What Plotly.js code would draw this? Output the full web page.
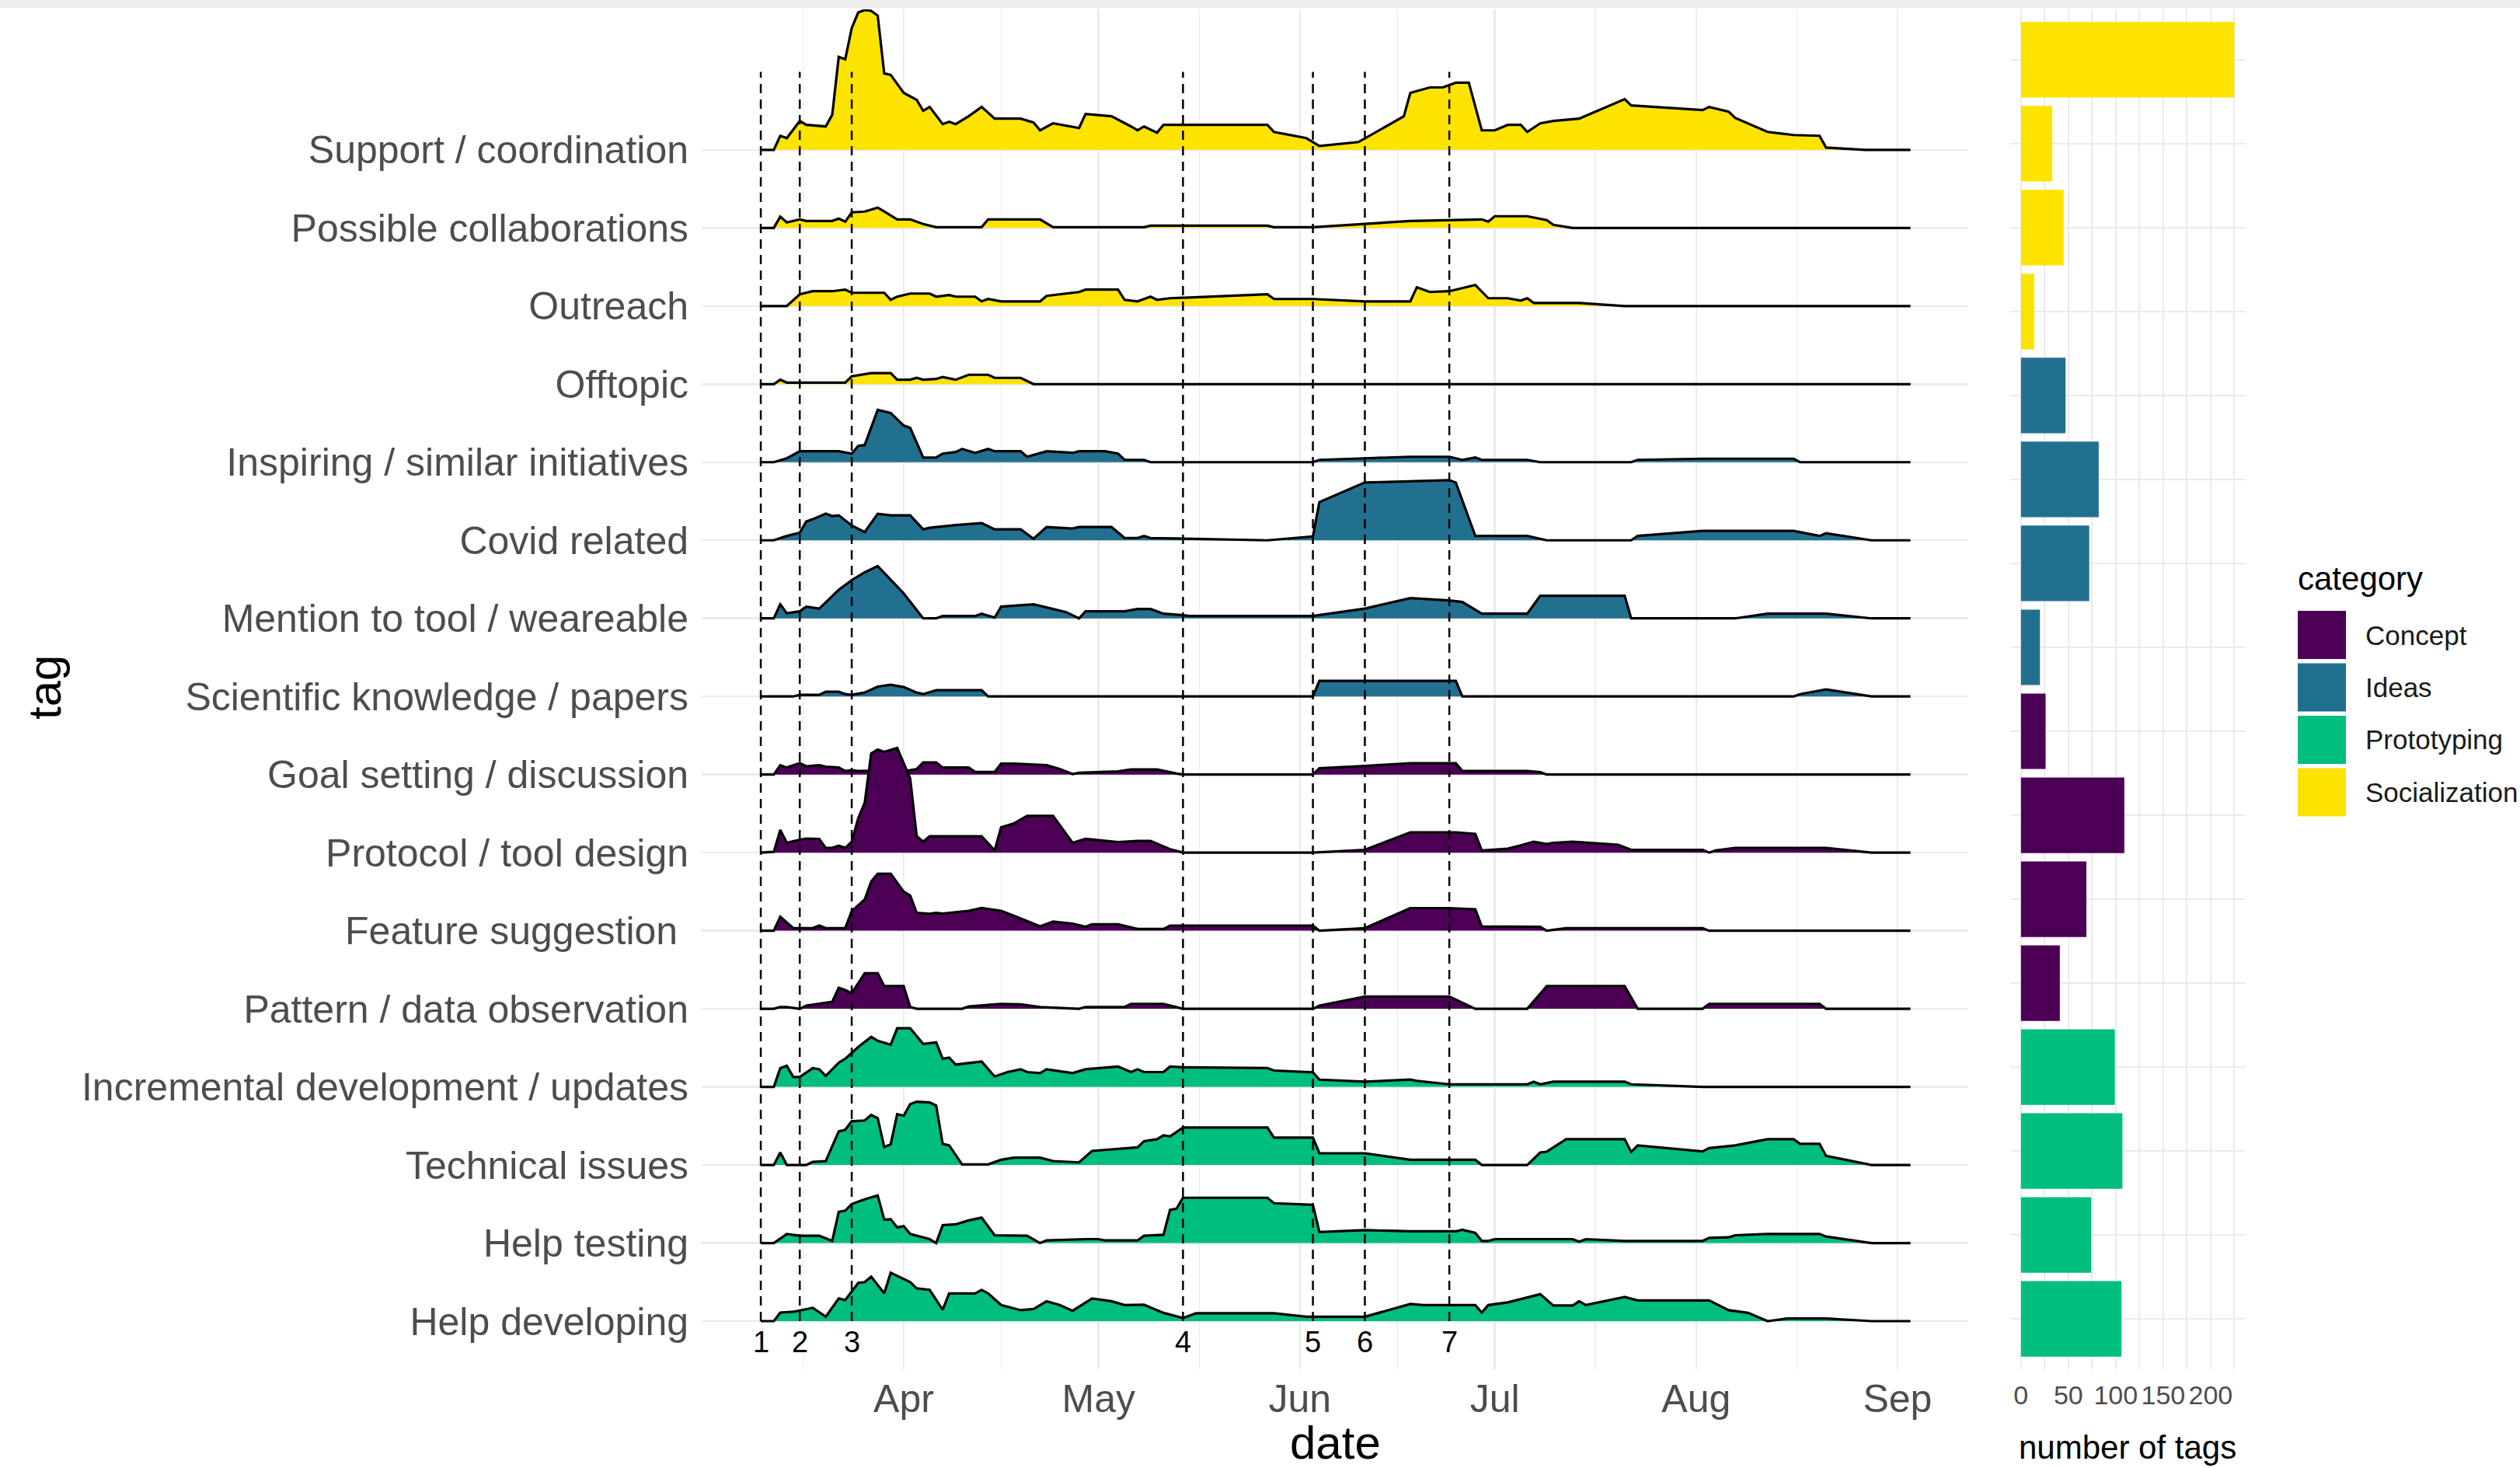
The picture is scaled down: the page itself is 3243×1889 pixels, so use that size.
<!DOCTYPE html>
<html>
<head>
<meta charset="utf-8">
<script src="https://cdn.plot.ly/plotly-3.0.1.min.js"></script>
<style>
html,body{margin:0;padding:0;background:#ffffff;}
#chart{width:3243px;height:1889px;}
</style>
</head>
<body>
<div id="chart"></div>
<script>
// ---------------- DATA ----------------
const YEAR = '2020';

// tags, top to bottom
const tags = [
  'Support / coordination', 'Possible collaborations', 'Outreach', 'Offtopic',
  'Inspiring / similar initiatives', 'Covid related', 'Mention to tool / weareable', 'Scientific knowledge / papers',
  'Goal setting / discussion', 'Protocol / tool design', 'Feature suggestion ', 'Pattern / data observation',
  'Incremental development / updates', 'Technical issues', 'Help testing', 'Help developing'
];
const tagCategory = [
  'Socialization','Socialization','Socialization','Socialization',
  'Ideas','Ideas','Ideas','Ideas',
  'Concept','Concept','Concept','Concept',
  'Prototyping','Prototyping','Prototyping','Prototyping'
];
const categories = ['Concept', 'Ideas', 'Prototyping', 'Socialization'];
const categoryColors = ['#4B0055', '#22708F', '#00BE7D', '#FDE400'];
const tagCounts = [225, 33, 45, 14, 47, 82, 72, 20, 26, 109, 69, 41, 99, 107, 74, 106];

const eventDates = ['03-10', '03-16', '03-24', '05-14', '06-03', '06-11', '06-24'];
const eventLabels = ['1', '2', '3', '4', '5', '6', '7'];
const monthTicks = ['04-01', '05-01', '06-01', '07-01', '08-01', '09-01'];
const monthLabels = ['Apr', 'May', 'Jun', 'Jul', 'Aug', 'Sep'];
const monthMinor = ['03-16 12:00', '04-16', '05-16 12:00', '06-16', '07-16 12:00', '08-16 12:00'];
const countTicks = [0, 50, 100, 150, 200];
const countMinor = [25, 75, 125, 175, 225];

// ridge heights (in row-spacing units), per tag
const supportDates = ['03-10','03-12','03-13','03-14','03-16','03-17','03-20','03-21','03-22','03-23','03-24','03-25','03-26','03-27','03-28','03-29','03-30','04-01','04-03','04-04','04-05','04-07','04-08','04-09','04-11','04-13','04-15','04-19','04-21','04-22','04-24','04-28','04-29','05-03','05-06','05-07','05-08','05-10','05-11','05-27','05-28','06-02','06-04','06-10','06-17','06-18','06-21','06-23','06-25','06-27','06-29','07-01','07-03','07-05','07-06','07-08','07-10','07-14','07-21','07-22','08-02','08-03','08-06','08-07','08-12','08-16','08-20','08-21','08-27','09-03'];
const supportVals = [0,0,0.18,0.15,0.37,0.32,0.30,0.45,1.19,1.16,1.56,1.76,1.79,1.78,1.72,0.98,0.96,0.73,0.64,0.50,0.55,0.33,0.36,0.33,0.43,0.55,0.40,0.40,0.35,0.25,0.34,0.28,0.46,0.43,0.30,0.25,0.30,0.22,0.32,0.32,0.23,0.15,0.05,0.10,0.43,0.73,0.80,0.80,0.86,0.86,0.25,0.25,0.32,0.32,0.23,0.34,0.37,0.40,0.65,0.57,0.51,0.55,0.49,0.41,0.23,0.19,0.18,0.03,0,0];

const collabDates = ['03-10','03-12','03-13','03-14','03-16','03-17','03-21','03-22','03-23','03-24','03-26','03-28','03-29','03-31','04-02','04-04','04-06','04-13','04-14','04-22','04-24','05-08','05-09','05-27','05-28','06-03','06-18','06-29','06-30','07-01','07-06','07-08','07-09','07-10','07-13','09-03'];
const collabVals = [0,0,0.146,0.07,0.11,0.09,0.09,0.12,0.08,0.20,0.21,0.26,0.21,0.11,0.11,0.05,0.01,0.01,0.11,0.11,0.01,0.01,0.03,0.03,0.01,0.01,0.09,0.11,0.08,0.15,0.15,0.12,0.10,0.04,0,0];

const outreachDates = ['03-10','03-14','03-16','03-18','03-21','03-23','03-24','03-29','03-30','03-31','04-02','04-05','04-06','04-08','04-09','04-12','04-13','04-14','04-16','04-22','04-23','04-28','04-29','05-04','05-05','05-07','05-09','05-10','05-12','05-27','05-28','06-03','06-11','06-18','06-19','06-21','06-24','06-28','06-30','07-03','07-05','07-06','07-07','07-14','07-21','09-03'];
const outreachVals = [0,0,0.15,0.19,0.19,0.21,0.17,0.17,0.08,0.12,0.16,0.16,0.12,0.14,0.12,0.12,0.06,0.09,0.06,0.06,0.13,0.18,0.21,0.21,0.08,0.06,0.12,0.08,0.10,0.15,0.09,0.09,0.06,0.06,0.24,0.18,0.19,0.27,0.10,0.10,0.07,0.10,0.04,0.04,0,0];

const offtopicDates = ['03-10','03-12','03-13','03-14','03-23','03-24','03-27','03-30','03-31','04-02','04-03','04-04','04-06','04-07','04-09','04-11','04-14','04-15','04-19','04-21','09-03'];
const offtopicVals = [0,0,0.056,0.02,0.02,0.10,0.14,0.14,0.056,0.056,0.08,0.056,0.066,0.09,0.056,0.12,0.12,0.08,0.08,0,0];

const inspiringDates = ['03-10','03-12','03-14','03-16','03-22','03-24','03-25','03-26','03-28','03-30','04-01','04-02','04-04','04-06','04-07','04-09','04-10','04-12','04-14','04-15','04-19','04-20','04-23','04-27','04-28','05-02','05-04','05-05','05-08','05-09','06-03','06-04','06-11','06-18','06-24','06-26','06-28','06-29','07-06','07-08','07-22','07-23','08-02','08-16','08-17','09-03'];
const inspiringVals = [0,0,0.05,0.14,0.14,0.11,0.21,0.22,0.67,0.63,0.47,0.44,0.06,0.06,0.11,0.13,0.17,0.12,0.17,0.14,0.14,0.07,0.14,0.12,0.14,0.14,0.11,0.03,0.03,0,0,0.03,0.05,0.07,0.07,0.03,0.06,0.03,0.03,0,0,0.03,0.045,0.045,0,0];

const covidDates = ['03-10','03-12','03-14','03-16','03-17','03-18','03-20','03-21','03-22','03-24','03-26','03-28','03-30','04-02','04-04','04-05','04-09','04-13','04-15','04-19','04-21','04-23','04-27','04-28','05-03','05-05','05-07','05-08','05-09','05-27','06-03','06-04','06-11','06-24','06-25','06-28','07-06','07-09','07-22','07-23','08-02','08-16','08-20','08-21','08-28','09-03'];
const covidVals = [0,0,0.056,0.096,0.24,0.27,0.34,0.31,0.32,0.19,0.106,0.34,0.32,0.32,0.14,0.16,0.196,0.22,0.14,0.14,0.02,0.17,0.15,0.17,0.17,0.03,0.03,0.056,0.03,0,0.05,0.49,0.74,0.77,0.74,0.056,0.056,0,0,0.056,0.12,0.12,0.056,0.09,0,0];

const mentionDates = ['03-10','03-12','03-13','03-14','03-16','03-17','03-19','03-21','03-22','03-24','03-26','03-28','03-30','04-01','04-04','04-06','04-07','04-12','04-13','04-15','04-16','04-21','04-23','04-26','04-28','04-29','05-05','05-07','05-09','05-11','05-14','05-15','06-03','06-11','06-18','06-24','06-26','06-29','07-06','07-08','07-21','07-22','08-07','08-12','08-21','08-28','09-03'];
const mentionVals = [0,0,0.18,0.066,0.09,0.15,0.126,0.29,0.365,0.49,0.59,0.67,0.49,0.32,0,0,0.03,0.03,0.06,0.01,0.15,0.18,0.14,0.08,0,0.09,0.09,0.12,0.12,0.06,0.04,0.03,0.03,0.126,0.26,0.23,0.21,0.06,0.06,0.29,0.29,0,0,0.06,0.06,0,0];

const scientificDates = ['03-10','03-15','03-16','03-19','03-20','03-22','03-23','03-24','03-26','03-27','03-28','03-30','04-01','04-03','04-04','04-06','04-13','04-14','06-03','06-04','06-25','06-26','08-16','08-17','08-21','08-28','09-03'];
const scientificVals = [0,0,0.02,0.02,0.06,0.06,0.03,0.02,0.05,0.09,0.126,0.15,0.12,0.05,0.03,0.08,0.08,0,0,0.2,0.2,0,0,0.03,0.09,0,0];

const goalDates = ['03-10','03-12','03-13','03-14','03-16','03-17','03-19','03-20','03-22','03-23','03-24','03-25','03-29','04-01','04-03','04-04','04-06','04-07','04-11','04-12','04-15','04-16','04-18','04-23','04-25','04-27','04-28','05-04','05-06','05-10','05-13','05-14','06-03','06-04','06-11','06-18','06-25','06-26','07-06','07-08','07-09','09-03'];
const goalVals = [0,0,0.12,0.09,0.146,0.106,0.12,0.10,0.09,0.046,0.056,0.046,0.05,0.04,0.07,0.156,0.156,0.09,0.09,0.033,0.033,0.14,0.14,0.12,0.07,0.007,0.023,0.04,0.066,0.066,0.013,0,0,0.08,0.11,0.146,0.146,0.046,0.046,0.03,0,0];

const protocolDates = ['03-10','03-12','03-13','03-14','03-16','03-17','03-19','03-20','03-21','03-22','03-23','03-24','03-25','03-26','03-27','03-28','03-29','03-31','04-02','04-03','04-04','04-05','04-13','04-15','04-16','04-18','04-20','04-24','04-27','04-29','05-04','05-07','05-09','05-12','05-14','06-03','06-11','06-18','06-25','06-28','06-29','07-03','07-05','07-07','07-09','07-10','07-13','07-20','07-22','08-02','08-03','08-04','08-07','08-21','08-28','09-03'];
const protocolVals = [0,0.01,0.29,0.126,0.166,0.18,0.176,0.06,0.06,0.09,0.06,0.14,0.44,0.64,1.27,1.32,1.29,1.34,0.95,0.21,0.14,0.21,0.21,0.027,0.325,0.375,0.47,0.47,0.126,0.176,0.136,0.15,0.15,0.043,0,0,0.036,0.26,0.26,0.24,0.027,0.05,0.093,0.14,0.11,0.126,0.14,0.10,0.036,0.036,0,0.027,0.06,0.06,0,0];

const featureDates = ['03-10','03-12','03-13','03-15','03-18','03-19','03-20','03-23','03-24','03-26','03-27','03-28','03-30','04-01','04-02','04-03','04-05','04-06','04-07','04-11','04-13','04-16','04-18','04-22','04-24','04-27','04-29','04-30','05-04','05-07','05-11','05-12','06-03','06-04','06-11','06-18','06-24','06-28','06-29','07-08','07-09','07-12','08-02','08-03','09-03'];
const featureVals = [0,0,0.18,0.033,0.033,0.066,0.033,0.033,0.25,0.40,0.63,0.73,0.73,0.50,0.45,0.23,0.216,0.23,0.22,0.255,0.29,0.255,0.19,0.056,0.116,0.09,0.05,0.083,0.083,0.023,0.023,0.066,0.066,0,0.033,0.29,0.29,0.275,0.056,0.05,0,0.033,0.033,0,0];

const patternDates = ['03-10','03-12','03-13','03-14','03-16','03-17','03-21','03-22','03-23','03-24','03-26','03-28','03-29','04-01','04-02','04-03','04-10','04-11','04-16','04-19','04-22','04-28','04-29','05-05','05-06','05-11','05-14','06-03','06-04','06-11','06-24','06-28','07-06','07-09','07-21','07-23','08-02','08-03','08-20','08-21','09-03'];
const patternVals = [0,0,0.023,0.023,0,0.04,0.09,0.27,0.24,0.2,0.455,0.455,0.29,0.29,0.023,0,0,0.03,0.063,0.056,0.023,0,0.023,0.023,0.063,0.063,0,0,0.04,0.156,0.156,0,0,0.29,0.29,0,0,0.063,0.063,0,0];

const incrementalDates = ['03-10','03-12','03-13','03-14','03-15','03-16','03-18','03-19','03-20','03-22','03-23','03-24','03-25','03-27','03-28','03-30','03-31','04-02','04-04','04-06','04-07','04-08','04-09','04-13','04-15','04-17','04-19','04-20','04-22','04-23','04-25','04-27','04-29','05-04','05-06','05-07','05-08','05-11','05-12','05-14','05-27','05-28','06-03','06-04','06-11','06-18','06-19','06-24','07-06','07-07','07-08','07-10','07-21','07-22','08-02','09-03'];
const incrementalVals = [0,0,0.24,0.27,0.126,0.126,0.24,0.226,0.14,0.31,0.36,0.44,0.51,0.64,0.59,0.54,0.75,0.75,0.55,0.57,0.36,0.375,0.285,0.325,0.133,0.19,0.226,0.19,0.176,0.226,0.2,0.176,0.226,0.26,0.19,0.226,0.19,0.19,0.26,0.25,0.24,0.21,0.186,0.093,0.066,0.093,0.076,0.033,0.033,0.066,0.033,0.066,0.066,0.033,0,0];

const technicalDates = ['03-10','03-12','03-13','03-14','03-17','03-18','03-20','03-22','03-23','03-24','03-26','03-27','03-28','03-29','03-30','03-31','04-01','04-02','04-03','04-05','04-06','04-07','04-08','04-10','04-14','04-16','04-18','04-22','04-24','04-28','04-30','05-07','05-08','05-10','05-11','05-12','05-14','05-27','05-28','06-03','06-04','06-11','06-18','06-28','06-29','07-06','07-08','07-09','07-12','07-21','07-22','07-23','08-02','08-03','08-07','08-12','08-16','08-17','08-20','08-21','08-28','09-03'];
const technicalVals = [0,0,0.16,0,0,0.04,0.05,0.43,0.45,0.56,0.57,0.64,0.60,0.23,0.265,0.65,0.63,0.78,0.81,0.80,0.76,0.27,0.25,0.007,0.007,0.066,0.093,0.093,0.05,0.033,0.18,0.226,0.305,0.33,0.38,0.365,0.48,0.48,0.35,0.35,0.15,0.15,0.066,0.066,0,0,0.16,0.17,0.33,0.33,0.166,0.25,0.173,0.216,0.25,0.33,0.33,0.27,0.27,0.116,0,0];

const testingDates = ['03-10','03-12','03-14','03-16','03-19','03-21','03-22','03-23','03-24','03-26','03-28','03-29','03-30','03-31','04-01','04-02','04-05','04-06','04-07','04-09','04-11','04-13','04-15','04-20','04-22','04-23','04-29','05-01','05-02','05-07','05-08','05-11','05-12','05-13','05-14','05-27','05-28','06-03','06-04','06-11','06-18','06-25','06-26','06-28','06-29','06-30','07-01','07-13','07-14','07-15','07-21','08-02','08-03','08-06','08-07','08-12','08-20','08-21','08-28','09-03'];
const testingVals = [0,0,0.116,0.093,0.093,0.027,0.40,0.415,0.50,0.56,0.61,0.30,0.305,0.2,0.216,0.116,0.05,0,0.23,0.24,0.29,0.325,0.1,0.093,0,0.033,0.05,0.05,0.033,0.033,0.093,0.106,0.425,0.44,0.58,0.58,0.51,0.49,0.14,0.166,0.15,0.15,0.17,0.13,0.027,0.027,0.05,0.05,0.017,0.05,0.027,0.027,0.066,0.073,0.1,0.116,0.116,0.083,0,0];

const developingDates = ['03-10','03-12','03-13','03-15','03-18','03-20','03-22','03-23','03-25','03-26','03-27','03-29','03-30','04-01','04-02','04-03','04-05','04-07','04-08','04-12','04-13','04-14','04-16','04-19','04-21','04-23','04-25','04-27','04-30','05-03','05-05','05-08','05-11','05-14','05-16','05-28','06-02','06-11','06-18','06-20','06-28','06-29','06-30','07-03','07-08','07-10','07-13','07-14','07-15','07-21','07-23','08-03','08-06','08-09','08-12','08-15','08-21','08-28','09-03'];
const developingVals = [0,0,0.11,0.12,0.17,0.056,0.29,0.27,0.49,0.50,0.57,0.355,0.62,0.54,0.50,0.42,0.40,0.146,0.355,0.355,0.40,0.355,0.206,0.14,0.156,0.255,0.206,0.133,0.29,0.255,0.206,0.21,0.106,0.04,0.1,0.1,0.056,0.056,0.22,0.206,0.206,0.11,0.206,0.24,0.345,0.2,0.2,0.255,0.206,0.31,0.265,0.265,0.14,0.106,0,0.033,0.033,0,0];

// series in the same (top-to-bottom) order as tags
const seriesDates = [supportDates, collabDates, outreachDates, offtopicDates, inspiringDates, covidDates, mentionDates, scientificDates, goalDates, protocolDates, featureDates, patternDates, incrementalDates, technicalDates, testingDates, developingDates];
const seriesVals = [supportVals, collabVals, outreachVals, offtopicVals, inspiringVals, covidVals, mentionVals, scientificVals, goalVals, protocolVals, featureVals, patternVals, incrementalVals, technicalVals, testingVals, developingVals];

// ---------------- LAYOUT GEOMETRY ----------------
const W = 3243, H = 1889;
const FONT = 'Liberation Sans, Arial, Helvetica, sans-serif';
const px = v => v / W;
const py = v => 1 - v / H;
const toDate = s => YEAR + '-' + s;
const colorOf = cat => categoryColors[categories.indexOf(cat)];
const nRows = tags.length;
const rowOf = i => nRows - 1 - i;

const traces = [];
// ridges: top row first, lower rows drawn over upper rows
for (let i = 0; i < nRows; i++) {
  const r = rowOf(i);
  const xs = seriesDates[i].map(toDate);
  const ys = seriesVals[i].map(v => v + r);
  traces.push({
    type: 'scatter', mode: 'lines', x: [xs[0], xs[xs.length - 1]], y: [r, r],
    line: {width: 0, color: 'rgba(0,0,0,0)'}, hoverinfo: 'skip', showlegend: false,
    xaxis: 'x', yaxis: 'y'
  });
  traces.push({
    type: 'scatter', mode: 'lines', x: xs, y: ys, fill: 'tonexty',
    fillcolor: colorOf(tagCategory[i]), line: {color: '#000000', width: 3.2},
    name: tags[i], showlegend: false, xaxis: 'x', yaxis: 'y'
  });
}
// bars
traces.push({
  type: 'bar', orientation: 'h', x: tagCounts, y: tags.map((t, i) => rowOf(i)),
  width: 0.9, marker: {color: tagCategory.map(colorOf), line: {width: 0}},
  showlegend: false, xaxis: 'x2', yaxis: 'y2'
});

const shapes = [];
// top grey band
shapes.push({type: 'rect', xref: 'paper', yref: 'paper', x0: 0, x1: 1, y0: py(10), y1: 1,
  fillcolor: '#efefef', line: {width: 0}, layer: 'below'});
// event lines
eventDates.forEach(d => {
  shapes.push({type: 'line', xref: 'x', yref: 'y', x0: toDate(d), x1: toDate(d), y0: 0, y1: 16,
    line: {color: '#000000', width: 2.5, dash: '12px,8px'}, layer: 'above'});
});
// legend swatches
categories.forEach((c, k) => {
  const top = 786 + k * 67.5;
  shapes.push({type: 'rect', xref: 'paper', yref: 'paper', x0: px(2957), x1: px(3019),
    y0: py(top + 62), y1: py(top), fillcolor: categoryColors[k], line: {width: 0}});
});

const annotations = [];
eventDates.forEach((d, k) => {
  annotations.push({xref: 'x', yref: 'y', x: toDate(d), y: -0.27, text: eventLabels[k], showarrow: false,
    font: {family: FONT, size: 38, color: '#000000'}, xanchor: 'center', yanchor: 'middle'});
});
annotations.push({xref: 'paper', yref: 'paper', x: px(1718), y: py(1856), text: 'date', showarrow: false,
  font: {family: FONT, size: 60, color: '#000000'}, xanchor: 'center', yanchor: 'middle'});
annotations.push({xref: 'paper', yref: 'paper', x: px(58), y: py(885), text: 'tag', showarrow: false, textangle: -90,
  font: {family: FONT, size: 60, color: '#000000'}, xanchor: 'center', yanchor: 'middle'});
annotations.push({xref: 'paper', yref: 'paper', x: px(2738), y: py(1862), text: 'number of tags', showarrow: false,
  font: {family: FONT, size: 42, color: '#000000'}, xanchor: 'center', yanchor: 'middle'});
annotations.push({xref: 'paper', yref: 'paper', x: px(2955), y: py(745), text: 'category', showarrow: false,
  font: {family: FONT, size: 42, color: '#000000'}, xanchor: 'left', yanchor: 'middle'});
categories.forEach((c, k) => {
  annotations.push({xref: 'paper', yref: 'paper', x: px(3042), y: py(786 + k * 67.5 + 31), text: c, showarrow: false,
    font: {family: FONT, size: 35, color: '#1a1a1a'}, xanchor: 'left', yanchor: 'middle'});
});

const GRID = '#ebebeb';
const rowTicks = tags.map((t, i) => rowOf(i));
const layout = {
  width: W, height: H,
  margin: {l: 0, r: 0, t: 0, b: 0, pad: 0},
  paper_bgcolor: '#ffffff', plot_bgcolor: '#ffffff',
  font: {family: FONT},
  showlegend: false, hovermode: false,
  xaxis: {
    domain: [px(903), px(2533)], type: 'date',
    range: [YEAR + '-02-29 21:36', YEAR + '-09-11 21:36'],
    tickmode: 'array', tickvals: monthTicks.map(toDate), ticktext: monthLabels,
    showgrid: true, gridcolor: GRID, gridwidth: 2.5,
    minor: {tickmode: 'array', tickvals: monthMinor.map(toDate), showgrid: true, gridcolor: GRID, gridwidth: 1.5, ticks: ''},
    zeroline: false, showline: false, ticks: '', ticklabelstandoff: 4,
    tickfont: {family: FONT, size: 50, color: '#4d4d4d'}, anchor: 'y'
  },
  yaxis: {
    domain: [py(1762), py(12)], range: [-0.617, 16.80],
    tickmode: 'array', tickvals: rowTicks, ticktext: tags,
    showgrid: true, gridcolor: GRID, gridwidth: 2.5,
    zeroline: false, showline: false, ticks: '', ticklabelstandoff: 16,
    tickfont: {family: FONT, size: 50, color: '#4d4d4d'}, anchor: 'x'
  },
  xaxis2: {
    domain: [px(2587), px(2890)], range: [-11.3, 237],
    tickmode: 'array', tickvals: countTicks, ticktext: countTicks.map(String),
    showgrid: true, gridcolor: GRID, gridwidth: 2.5,
    minor: {tickmode: 'array', tickvals: countMinor, showgrid: true, gridcolor: GRID, gridwidth: 2, ticks: ''},
    zeroline: false, showline: false, ticks: '', ticklabelstandoff: 10,
    tickfont: {family: FONT, size: 34, color: '#4d4d4d'}, anchor: 'y2'
  },
  yaxis2: {
    domain: [py(1762), py(12)], range: [-0.6, 15.6],
    tickmode: 'array', tickvals: rowTicks, showticklabels: false,
    showgrid: true, gridcolor: GRID, gridwidth: 2.5,
    zeroline: false, showline: false, ticks: '', anchor: 'x2'
  },
  shapes: shapes,
  annotations: annotations
};

Plotly.newPlot('chart', traces, layout, {staticPlot: true, displayModeBar: false});
</script>
</body>
</html>
